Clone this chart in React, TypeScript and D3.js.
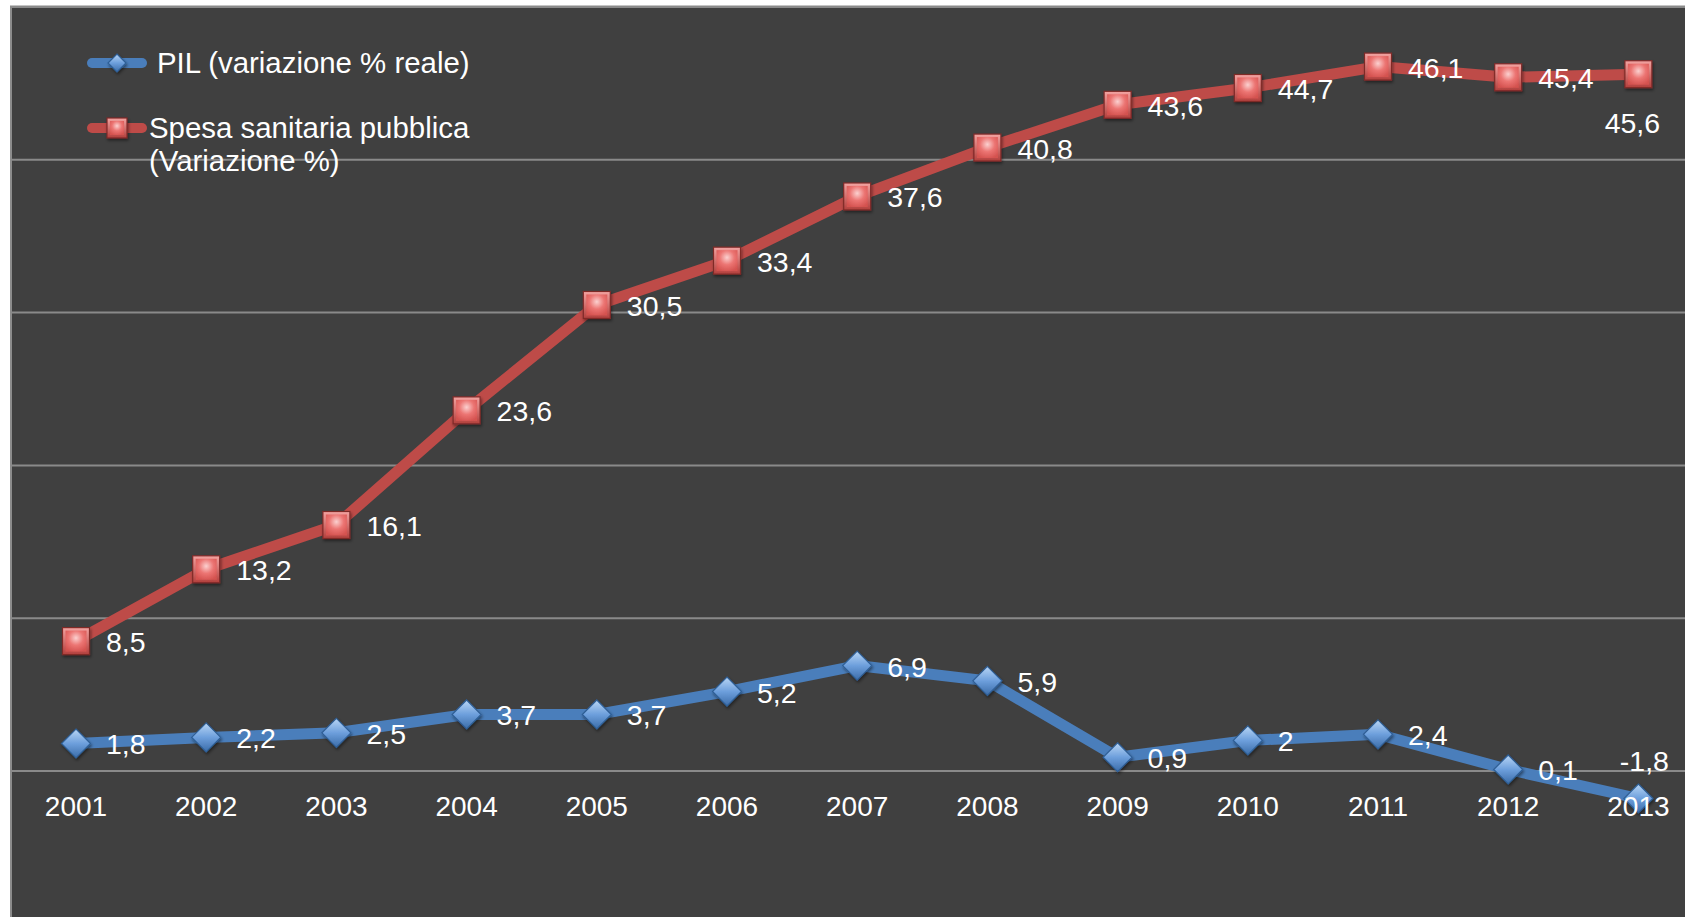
import React from "react";
import * as d3 from "d3";

const years = ["2001","2002","2003","2004","2005","2006","2007","2008","2009","2010","2011","2012","2013"];
const pilValues = [1.8, 2.2, 2.5, 3.7, 3.7, 5.2, 6.9, 5.9, 0.9, 2, 2.4, 0.1, -1.8];
const spesaValues = [8.5, 13.2, 16.1, 23.6, 30.5, 33.4, 37.6, 40.8, 43.6, 44.7, 46.1, 45.4, 45.6];
const seriesNames = ["PIL (variazione % reale)", "Spesa sanitaria pubblica", "(Variazione %)"];
const yTicks = [-10, 0, 10, 20, 30, 40, 50];

const W = 1685, H = 917;
const FONT = "Arial, 'Liberation Sans', sans-serif";
const BLUE = "#4a7ebb";
const RED = "#be4b48";
const fmt = (v: number) => String(v).replace(".", ",");

export default function App() {
  const x = d3.scalePoint<string>().domain(years).range([10.9, 1703.5]).padding(0.5);
  const y = d3.scaleLinear().domain([-10, 50]).range([7 + 60 * 15.28, 7]);
  const line = d3.line<number>().x((_, i) => x(years[i])!).y((d) => y(d));

  const diamond = (cx: number, cy: number, r: number, key: string) => (
    <path key={key} d={`M${cx},${cy - r}L${cx + r},${cy}L${cx},${cy + r}L${cx - r},${cy}Z`}
      fill="url(#gBlue)" stroke="#2f5f96" strokeWidth={1.2} filter="url(#shadow)" />
  );
  const square = (cx: number, cy: number, s: number, key: string) => (
    <g key={key} filter="url(#shadow)">
      <rect x={cx - s / 2} y={cy - s / 2} width={s} height={s} fill="url(#gRed)" stroke="#7f2a28" strokeWidth={1.2} />
      <rect x={cx - s / 2 + 3} y={cy - s / 2 + 3} width={s - 6} height={s - 6} fill="url(#gRedIn)" />
    </g>
  );

  const labelPos = (series: string, i: number, v: number) => {
    const cx = x(years[i])!, cy = y(v);
    if (series === "red" && i === years.length - 1) return { x: cx - 6, y: cy + 59, anchor: "middle" };
    if (series === "blue" && i === years.length - 1) return { x: cx + 6, y: cy - 28, anchor: "middle" };
    return { x: cx + 30, y: cy + 11, anchor: "start" };
  };

  return (
    <svg width={W} height={H} style={{ position: "absolute", left: 0, top: 0, display: "block" }} fontFamily={FONT}>
      <defs>
        <linearGradient id="gBlue" x1="0" y1="0" x2="0" y2="1">
          <stop offset="0" stopColor="#b9d6f5" />
          <stop offset="0.5" stopColor="#6d9fdc" />
          <stop offset="1" stopColor="#3b6ca8" />
        </linearGradient>
        <linearGradient id="gRed" x1="0" y1="0" x2="0" y2="1">
          <stop offset="0" stopColor="#f3a3a1" />
          <stop offset="1" stopColor="#b23f3c" />
        </linearGradient>
        <radialGradient id="gRedIn" cx="0.5" cy="0.35" r="0.7">
          <stop offset="0" stopColor="#fbd0cf" />
          <stop offset="0.5" stopColor="#ec7573" />
          <stop offset="1" stopColor="#d4524f" />
        </radialGradient>
        <filter id="shadow" x="-50%" y="-50%" width="200%" height="200%">
          <feDropShadow dx="1" dy="2" stdDeviation="1.5" floodColor="#000" floodOpacity="0.45" />
        </filter>
      </defs>
      <rect x={0} y={0} width={W} height={H} fill="#ffffff" />
      <rect x={11} y={6.5} width={W + 20} height={H + 20} fill="#404040" stroke="#8c8c8c" strokeWidth={2} />

      {yTicks.map((t) => (
        <line key={t} x1={12} x2={W} y1={y(t)} y2={y(t)} stroke="#8a8a8a" strokeWidth={2} />
      ))}

      <path d={line(spesaValues) || ""} fill="none" stroke={RED} strokeWidth={11} strokeLinejoin="round" strokeLinecap="round" />
      <path d={line(pilValues) || ""} fill="none" stroke={BLUE} strokeWidth={11} strokeLinejoin="round" strokeLinecap="round" />

      {spesaValues.map((v, i) => square(x(years[i])!, y(v), 27, "s" + i))}
      {pilValues.map((v, i) => diamond(x(years[i])!, y(v), 14.5, "d" + i))}

      {years.map((yr) => (
        <text key={yr} x={x(yr)!} y={815.5} textAnchor="middle" fontSize={28} fill="#ffffff">{yr}</text>
      ))}

      {spesaValues.map((v, i) => {
        const p = labelPos("red", i, v);
        return <text key={"ls" + i} x={p.x} y={p.y} textAnchor={p.anchor as any} fontSize={28.5} fill="#ffffff">{fmt(v)}</text>;
      })}
      {pilValues.map((v, i) => {
        const p = labelPos("blue", i, v);
        return <text key={"lp" + i} x={p.x} y={p.y} textAnchor={p.anchor as any} fontSize={28.5} fill="#ffffff">{fmt(v)}</text>;
      })}

      {/* legend */}
      <line x1={92} x2={142} y1={63} y2={63} stroke={BLUE} strokeWidth={10} strokeLinecap="round" />
      {diamond(117, 63, 9, "legd")}
      <text x={157} y={73} fontSize={29.4} fill="#ffffff">{seriesNames[0]}</text>
      <line x1={92} x2={142} y1={128} y2={128} stroke={RED} strokeWidth={10} strokeLinecap="round" />
      {square(117, 128, 20, "legs")}
      <text x={149} y={138} fontSize={29.4} fill="#ffffff">{seriesNames[1]}</text>
      <text x={149} y={171} fontSize={29.4} fill="#ffffff">{seriesNames[2]}</text>
    </svg>
  );
}
